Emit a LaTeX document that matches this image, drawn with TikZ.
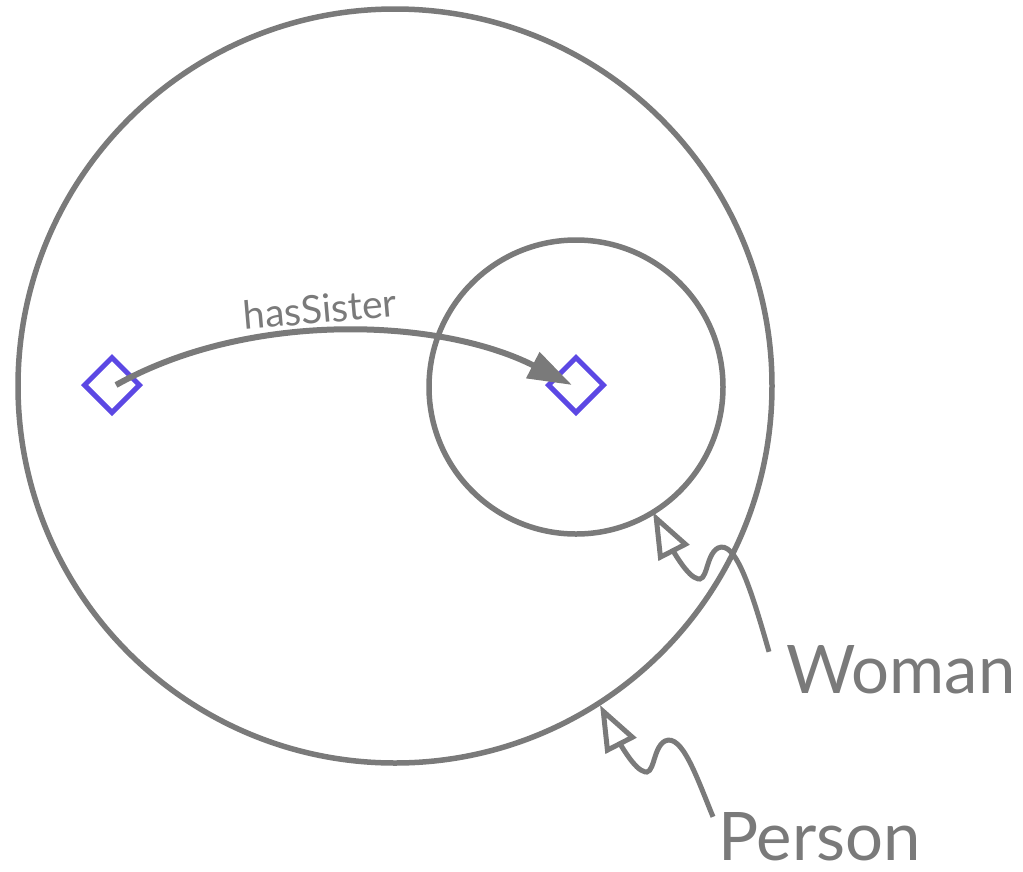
\documentclass[tikz,border=0pt]{standalone}
\usepackage{fontspec}
\setmainfont{Lato}
\usetikzlibrary{arrows.meta,shapes.geometric}
\definecolor{lg}{RGB}{122,122,122}
\definecolor{ind}{RGB}{92,72,228}
\tikzset{
  setring/.style={circle,draw=lg,line width=5.5pt,inner sep=0pt},
  indiv/.style={diamond,draw=ind,line width=5pt,inner sep=0pt,minimum width=57pt,minimum height=57pt},
  rel/.style={draw=lg,line width=6pt,-{Triangle[length=44pt,width=28pt]}},
  pointer/.style={draw=lg,line width=5pt,-{Triangle[open,length=46pt,width=34pt,line width=5pt]}},
  lab/.style={text=lg,inner sep=0pt,font=\fontsize{67pt}{67pt}\selectfont}
}
\begin{document}
\begin{tikzpicture}[x=1pt,y=-1pt]
\useasboundingbox (0,0) rectangle (1023,871);
\node[setring,minimum size=754pt] (person) at (395,386) {};
\node[setring,minimum size=294pt] (woman) at (576,387) {};
\node[indiv] (a) at (112,385) {};
\node[indiv] (b) at (576,385) {};
\draw[rel] ([xshift=4pt]a.center) .. controls (250,310) and (440,318) .. ([xshift=-4pt]b.center);
\node[text=lg,inner sep=0pt,rotate=5,font=\fontsize{39pt}{39pt}\selectfont,anchor=base] (hs) at (321,323) {hasSister};
\node[lab,anchor=base west] (wl) at (786,693) {Woman};
\node[lab,anchor=base west] (pl) at (718,860) {Person};
\coordinate (wt) at (653,512);
\coordinate (pt) at (600,705);
\draw[pointer] ([xshift=-17pt,yshift=-7pt]wl.north west) .. controls (750,585) and (735,540) .. (718,548)
  .. controls (705,555) and (708,585) .. (696,578)
  .. controls (686,575) and (670,545) .. (wt);
\draw[pointer] ([xshift=-5pt,yshift=-5pt]pl.north west) .. controls (697,778) and (682,733) .. (665,741)
  .. controls (652,748) and (655,778) .. (643,771)
  .. controls (633,768) and (617,738) .. (pt);
\end{tikzpicture}
\end{document}
